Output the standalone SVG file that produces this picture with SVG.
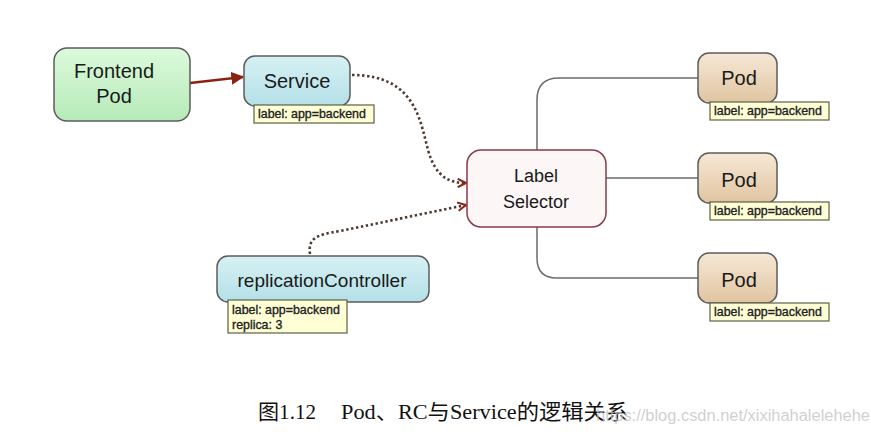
<svg xmlns="http://www.w3.org/2000/svg" width="871" height="435" viewBox="0 0 871 435">
<defs>
<linearGradient id="gGreen" x1="0" y1="0" x2="0" y2="1"><stop offset="0" stop-color="#dcfadc"/><stop offset="1" stop-color="#b6eab8"/></linearGradient>
<linearGradient id="gCyan" x1="0" y1="0" x2="0" y2="1"><stop offset="0" stop-color="#d6f1f4"/><stop offset="1" stop-color="#b4e0e8"/></linearGradient>
<linearGradient id="gTan" x1="0" y1="0" x2="0" y2="1"><stop offset="0" stop-color="#f6e8d6"/><stop offset="1" stop-color="#e0c4a0"/></linearGradient>
<marker id="solidArrow" viewBox="0 0 10 10" refX="9" refY="5" markerWidth="5" markerHeight="5" orient="auto" markerUnits="strokeWidth">
<path d="M0,0 L10,5 L0,10 Z" fill="#8a2412"/>
</marker>
<marker id="openArrow" viewBox="0 0 10 10" refX="9" refY="5" markerWidth="4" markerHeight="4" orient="auto" markerUnits="strokeWidth">
<path d="M1,1 L9,5 L1,9" fill="none" stroke="#8a2a1a" stroke-width="2"/>
</marker>
</defs>
<style>
.node{stroke:#5c5c5c;stroke-width:1.5}
.t{font-family:"Liberation Sans",Arial,sans-serif;fill:#1a1a1a;text-anchor:middle}
.lab{fill:#ffffd6;stroke:#5e5e48;stroke-width:1.2}
.lt{font-family:"Liberation Sans",Arial,sans-serif;font-size:12.4px;fill:#222;stroke:#222;stroke-width:0.35}
.conn{fill:none;stroke:#6a6a6a;stroke-width:1.5}
.dot{fill:none;stroke:#4a3a30;stroke-width:2.6;stroke-dasharray:2.4 2.6}
.cap{font-family:"Liberation Serif","Noto Sans CJK SC",serif;font-size:21px;fill:#111}
</style>
<rect width="871" height="435" fill="#ffffff"/>

<g id="connectors">
<path d="M190,83 L243,77" fill="none" stroke="#8a2412" stroke-width="2.6" marker-end="url(#solidArrow)"/>
<path class="dot" d="M352,75 C415,75 420,120 428,150 C436,178 450,183 466,183" marker-end="url(#openArrow)"/>
<path class="dot" d="M310,254 C308,238 316,235 340,231 L466,205" marker-end="url(#openArrow)"/>
<path class="conn" d="M537,150 L537,100 Q537,78 559,78 L698,78"/>
<path class="conn" d="M606,178 L698,178"/>
<path class="conn" d="M537,227 L537,258 Q537,278 557,278 L698,278"/>
</g>

<g id="frontend">
<rect class="node" x="54" y="48" width="136" height="73" rx="13" fill="url(#gGreen)"/>
<text class="t" x="114" y="78" font-size="20">Frontend</text>
<text class="t" x="114" y="103" font-size="20">Pod</text>
</g>

<g id="service">
<rect class="node" x="244" y="56" width="106" height="50" rx="11" fill="url(#gCyan)"/>
<text class="t" x="297" y="88" font-size="20">Service</text>
<rect class="lab" x="254" y="105" width="120" height="18"/>
<text class="lt" x="258" y="118">label: app=backend</text>
</g>

<g id="rc">
<rect class="node" x="217" y="256" width="212" height="46" rx="11" fill="url(#gCyan)"/>
<text class="t" x="322" y="287" font-size="19">replicationController</text>
<rect class="lab" x="228" y="300" width="119" height="33"/>
<text class="lt" x="232" y="314">label: app=backend</text>
<text class="lt" x="232" y="329">replica: 3</text>
</g>

<g id="selector">
<rect x="467" y="150" width="139" height="77" rx="14" fill="#fdf6f6" stroke="#8a3a48" stroke-width="1.5"/>
<text class="t" x="536" y="182" font-size="18">Label</text>
<text class="t" x="536" y="208" font-size="18">Selector</text>
</g>

<g id="pod1">
<rect class="node" x="698" y="53" width="79" height="50" rx="11" fill="url(#gTan)"/>
<text class="t" x="739" y="85" font-size="20">Pod</text>
<rect class="lab" x="710" y="102" width="119" height="18"/>
<text class="lt" x="714" y="115">label: app=backend</text>
</g>

<g id="pod2">
<rect class="node" x="698" y="153" width="79" height="50" rx="11" fill="url(#gTan)"/>
<text class="t" x="739" y="187" font-size="20">Pod</text>
<rect class="lab" x="710" y="202" width="119" height="18"/>
<text class="lt" x="714" y="215">label: app=backend</text>
</g>

<g id="pod3">
<rect class="node" x="698" y="253" width="79" height="50" rx="11" fill="url(#gTan)"/>
<text class="t" x="739" y="287" font-size="20">Pod</text>
<rect class="lab" x="710" y="303" width="119" height="18"/>
<text class="lt" x="714" y="316">label: app=backend</text>
</g>

<g id="caption">
<text class="cap" x="258" y="419" textLength="58" lengthAdjust="spacingAndGlyphs">图1.12</text>
<text class="cap" x="341" y="419" textLength="287" lengthAdjust="spacingAndGlyphs">Pod、RC与Service的逻辑关系</text>
<text font-family="'Liberation Sans',Arial,sans-serif" font-size="16" fill="#c4c4c4" fill-opacity="0.8" x="596" y="421" textLength="274" lengthAdjust="spacingAndGlyphs">https://blog.csdn.net/xixihahalelehehe</text>
</g>
</svg>
